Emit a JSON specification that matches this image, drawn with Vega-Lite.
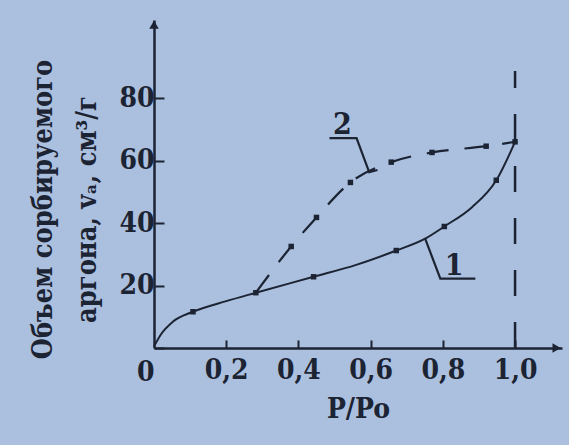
{
  "$schema": "https://vega.github.io/schema/vega-lite/v6.json",
  "width": 408,
  "height": 328,
  "autosize": {"type": "none"},
  "padding": {"left": 154, "top": 20, "right": 7, "bottom": 97},
  "background": "#aac0de",
  "config": {
    "view": {"stroke": null},
    "font": "DejaVu Serif Condensed, DejaVu Serif",
    "axis": {
      "grid": false,
      "domainColor": "#1c2333",
      "domainWidth": 2.5,
      "tickColor": "#1c2333",
      "tickWidth": 2,
      "labelColor": "#1c2333",
      "titleColor": "#1c2333",
      "labelFont": "DejaVu Serif Condensed, DejaVu Serif",
      "titleFont": "DejaVu Serif Condensed, DejaVu Serif",
      "labelFontWeight": "bold",
      "titleFontWeight": "bold",
      "labelFontSize": 28,
      "titleFontSize": 28
    }
  },
  "datasets": {
    "c1": [
      {"p": 0.0, "v": 0.5},
      {"p": 0.02, "v": 4.5},
      {"p": 0.052, "v": 8.4},
      {"p": 0.108, "v": 11.6},
      {"p": 0.2, "v": 15.0},
      {"p": 0.282, "v": 17.7},
      {"p": 0.442, "v": 22.8},
      {"p": 0.56, "v": 26.6},
      {"p": 0.671, "v": 31.2},
      {"p": 0.751, "v": 35.0},
      {"p": 0.804, "v": 38.9},
      {"p": 0.88, "v": 45.0},
      {"p": 0.948, "v": 53.7},
      {"p": 1.0, "v": 66.0}
    ],
    "c2": [
      {"p": 0.282, "v": 17.7},
      {"p": 0.38, "v": 32.5},
      {"p": 0.45, "v": 41.8},
      {"p": 0.544, "v": 53.0},
      {"p": 0.657, "v": 59.5},
      {"p": 0.77, "v": 62.6},
      {"p": 0.92, "v": 64.6},
      {"p": 1.0, "v": 66.0}
    ],
    "m": [
      {"p": 0.108, "v": 11.6},
      {"p": 0.282, "v": 17.7},
      {"p": 0.442, "v": 22.8},
      {"p": 0.671, "v": 31.2},
      {"p": 0.804, "v": 38.9},
      {"p": 0.948, "v": 53.7},
      {"p": 1.0, "v": 66.0},
      {"p": 0.38, "v": 32.5},
      {"p": 0.45, "v": 41.8},
      {"p": 0.544, "v": 53.0},
      {"p": 0.657, "v": 59.5},
      {"p": 0.77, "v": 62.6},
      {"p": 0.92, "v": 64.6}
    ],
    "vl": [{"p": 1.0, "v": 0, "v2": 88.7}],
    "leaders": [
      {"g": "2", "k": 1, "p": 0.486, "v": 67.2},
      {"g": "2", "k": 2, "p": 0.561, "v": 67.2},
      {"g": "2", "k": 3, "p": 0.596, "v": 56.3},
      {"g": "2", "k": 4, "p": 0.619, "v": 57.0},
      {"g": "1", "k": 1, "p": 0.751, "v": 35.0},
      {"g": "1", "k": 2, "p": 0.793, "v": 22.2},
      {"g": "1", "k": 3, "p": 0.89, "v": 22.2}
    ],
    "labels": [
      {"p": 0.522, "v": 68.4, "t": "2"},
      {"p": 0.831, "v": 23.4, "t": "1"}
    ],
    "arrows": [
      {"p": 0.0, "v": 103.5, "s": "up"},
      {"p": 1.115, "v": 0, "s": "right"}
    ]
  },
  "encoding": {
    "x": {
      "field": "p",
      "type": "quantitative",
      "scale": {"domain": [0, 1.13], "nice": false, "zero": false},
      "axis": {
        "values": [0.2, 0.4, 0.6, 0.8, 1.0],
        "labelExpr": "replace(format(datum.value, '.1f'), '.', ',')",
        "tickSize": -8,
        "labelPadding": 16,
        "title": "P/Po",
        "titlePadding": 11
      }
    },
    "y": {
      "field": "v",
      "type": "quantitative",
      "scale": {"domain": [0, 105], "nice": false, "zero": false},
      "axis": {
        "values": [0, 20, 40, 60, 80],
        "tickSize": -10,
        "labelPadding": 10,
        "labelOffset": {"condition": {"test": "datum.value == 0", "value": 24}, "value": 0},
        "title": ["Объем  сорбируемого", "аргона, vₐ, см³/г"],
        "titleAngle": -90,
        "titleAlign": "center",
        "titleBaseline": "top",
        "titleFontSize": 27,
        "titleLineHeight": 44,
        "titleX": -124,
        "titleY": 189
      }
    }
  },
  "layer": [
    {
      "data": {"name": "c1"},
      "mark": {"type": "line", "interpolate": "monotone", "color": "#1c2333", "strokeWidth": 2}
    },
    {
      "data": {"name": "c2"},
      "mark": {"type": "line", "interpolate": "monotone", "color": "#1c2333", "strokeWidth": 2.2, "strokeDash": [22, 16]}
    },
    {
      "data": {"name": "m"},
      "mark": {"type": "point", "shape": "square", "filled": true, "size": 30, "color": "#1c2333", "opacity": 1}
    },
    {
      "data": {"name": "vl"},
      "mark": {"type": "rule", "strokeDash": [26, 26], "strokeWidth": 2.5, "color": "#1c2333"},
      "encoding": {"y2": {"field": "v2"}}
    },
    {
      "data": {"name": "leaders"},
      "mark": {"type": "line", "color": "#1c2333", "strokeWidth": 2.2},
      "encoding": {"detail": {"field": "g"}, "order": {"field": "k", "type": "quantitative"}}
    },
    {
      "data": {"name": "labels"},
      "mark": {"type": "text", "fontSize": 30, "fontWeight": "bold", "align": "center", "baseline": "alphabetic", "color": "#1c2333"},
      "encoding": {"text": {"field": "t"}}
    },
    {
      "data": {"name": "arrows"},
      "mark": {"type": "point", "filled": true, "size": 90, "color": "#1c2333", "opacity": 1},
      "encoding": {
        "shape": {"field": "s", "type": "nominal", "scale": {"domain": ["up", "right"], "range": ["triangle-up", "triangle-right"]}, "legend": null}
      }
    }
  ]
}
